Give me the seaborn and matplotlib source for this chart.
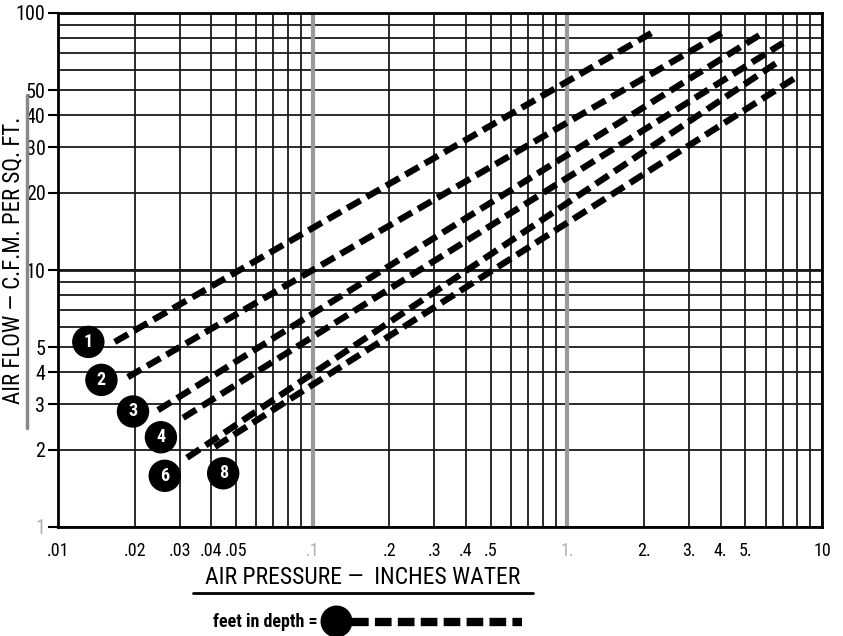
import numpy as np
import pandas as pd
import matplotlib
matplotlib.use("Agg")
import matplotlib.pyplot as plt
import seaborn as sns
from matplotlib import font_manager
from matplotlib.lines import Line2D
from matplotlib.ticker import LogLocator, NullFormatter, FixedLocator, FixedFormatter

# Bed depth lines (feet): start and end of each dashed line
depths = [1, 2, 3, 4, 6, 8]
start_pressure = [0.0167, 0.0188, 0.0247, 0.031, 0.0321, 0.0413]
start_flow = [5.25, 3.83, 2.85, 2.66, 1.86, 2.05]
end_pressure = [2.25, 4.08, 5.86, 7.02, 6.71, 8.18]
end_flow = [86, 84, 83.6, 76.4, 64.5, 57.4]

x_ticks = [0.01, 0.02, 0.03, 0.04, 0.05, 0.1, 0.2, 0.3, 0.4, 0.5, 1, 2, 3, 4, 5, 10]
x_labels = [".01", ".02", ".03", ".04", ".05", ".1", ".2", ".3", ".4", ".5",
            "1.", "2.", "3.", "4.", "5.", "10"]
y_ticks = [1, 2, 3, 4, 5, 10, 20, 30, 40, 50, 100]
y_labels = ["1", "2", "3", "4", "5", "10", "20", "30", "40", "50", "100"]

rows = []
for d, x0, y0, x1, y1 in zip(depths, start_pressure, start_flow, end_pressure, end_flow):
    rows.append({"depth": d, "pressure": x0, "flow": y0})
    rows.append({"depth": d, "pressure": x1, "flow": y1})
df = pd.DataFrame(rows)

# pick a narrow font if one is around, else condensed DejaVu
installed = {f.name for f in font_manager.fontManager.ttflist}
narrow = [n for n in ["Roboto Condensed", "Liberation Sans Narrow", "Open Sans Condensed"]
          if n in installed]
has_dv_cond = any(f.name == "DejaVu Sans" and str(f.stretch) in ("condensed", "semi-condensed")
                  for f in font_manager.fontManager.ttflist)

sns.set_theme(style="white")
plt.rcParams["font.family"] = narrow + ["DejaVu Sans"]
plt.rcParams["font.stretch"] = "condensed"
plt.rcParams["text.color"] = "black"
scale = 1.0 if (narrow or has_dv_cond) else 0.85

fig = plt.figure(figsize=(8.43, 6.36), dpi=100)
ax = fig.add_axes([58 / 843, 1 - 527 / 636, 764 / 843, 514 / 636])
ax.set_xscale("log")
ax.set_yscale("log")
ax.set_xlim(0.01, 10)
ax.set_ylim(1, 100)

# log paper grid
ax.xaxis.set_minor_locator(LogLocator(base=10, subs=np.arange(2, 10)))
ax.yaxis.set_minor_locator(LogLocator(base=10, subs=np.arange(2, 10)))
ax.xaxis.set_minor_formatter(NullFormatter())
ax.yaxis.set_minor_formatter(NullFormatter())
ax.grid(which="both", color="#1a1a1a", linewidth=1.3)
for v in [0.1, 1]:
    ax.axvline(v, color="#9a9a9a", linewidth=3, zorder=1)
ax.axhline(10, color="#1a1a1a", linewidth=2, zorder=1)

dash_style = (0, (2.4, 1.1))
for d in depths:
    sub = df[df["depth"] == d]
    sns.lineplot(data=sub, x="pressure", y="flow", ax=ax, color="black",
                 linewidth=4.6, linestyle=dash_style, estimator=None,
                 sort=False, zorder=5)
    ax.lines[-1].set_dash_capstyle("butt")

# numbered circles at the start of each line
offsets = {1: (-19, 0), 2: (-19, -2), 3: (-18, -1), 4: (-16, -14), 6: (-16, -13), 8: (6, -19)}
for d, x0, y0 in zip(depths, start_pressure, start_flow):
    ax.annotate(str(d), xy=(x0, y0), xytext=offsets[d], textcoords="offset points",
                ha="center", va="center", color="white", fontsize=13 * scale,
                fontweight="bold",
                bbox=dict(boxstyle="circle,pad=0.36", fc="black", ec="black"),
                zorder=7, annotation_clip=False)

ax.xaxis.set_major_locator(FixedLocator(x_ticks))
ax.xaxis.set_major_formatter(FixedFormatter(x_labels))
ax.yaxis.set_major_locator(FixedLocator(y_ticks))
ax.yaxis.set_major_formatter(FixedFormatter(y_labels))
ax.tick_params(axis="x", which="both", length=0, pad=11, labelsize=13 * scale,
               colors="black")
ax.tick_params(axis="y", which="major", length=7, width=1.5, pad=2,
               labelsize=14.5 * scale, colors="black", left=True)
ax.tick_params(axis="y", which="minor", length=0)
for lbl in ax.get_xticklabels():
    if lbl.get_text() in (".1", "1."):
        lbl.set_color("#b0b0b0")
for lbl in ax.get_yticklabels():
    if lbl.get_text() == "1":
        lbl.set_color("#b0b0b0")

for s in ax.spines.values():
    s.set_visible(True)
    s.set_color("black")
    s.set_linewidth(2)
ax.set_xlabel("")
ax.set_ylabel("")

# axis titles with underline
fig.text(13 / 843, 1 - 260 / 636, "AIR FLOW \u2014 C.F.M. PER SQ. FT.", rotation=90,
         ha="center", va="center", fontsize=16.5 * scale, color="black")
fig.add_artist(Line2D([27 / 843, 27 / 843], [1 - 95 / 636, 1 - 428 / 636],
                      color="#888888", linewidth=2.5, transform=fig.transFigure))
fig.text(363 / 843, 1 - 578 / 636, "AIR PRESSURE \u2014  INCHES WATER",
         ha="center", va="center", fontsize=17 * scale, color="black")
fig.add_artist(Line2D([193 / 843, 533 / 843], [1 - 593 / 636, 1 - 593 / 636],
                      color="black", linewidth=2, transform=fig.transFigure))

# depth legend
fig.text(318 / 843, 1 - 622 / 636, "feet in depth =", ha="right", va="center",
         fontsize=13 * scale, fontweight="semibold", color="black")
fig.add_artist(Line2D([336 / 843], [1 - 621 / 636], marker="o", markersize=22,
                      color="black", transform=fig.transFigure))
fig.add_artist(Line2D([352 / 843, 522 / 843], [1 - 622 / 636, 1 - 622 / 636],
                      color="black", linewidth=6, linestyle=(0, (2.0, 0.75)),
                      dash_capstyle="butt", transform=fig.transFigure))

fig.savefig("out.png", dpi=100, facecolor="white")
